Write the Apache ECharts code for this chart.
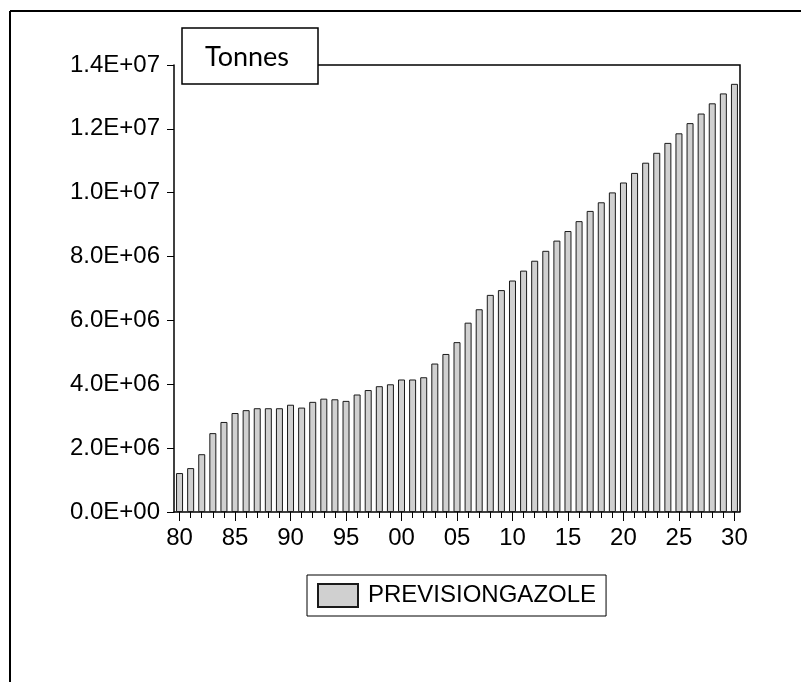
<!DOCTYPE html>
<html>
<head>
<meta charset="utf-8">
<script src="https://cdn.jsdelivr.net/npm/echarts@6/dist/echarts.min.js"></script>
<style>
  html, body { margin: 0; padding: 0; background: #fff; }
  #chart { width: 801px; height: 682px; }
</style>
</head>
<body>
<div id="chart"></div>
<script>
// years shown on the x axis (labels keep the last two digits)
var years = [
  "1980", "1981", "1982", "1983", "1984", "1985", "1986", "1987", "1988", "1989",
  "1990", "1991", "1992", "1993", "1994", "1995", "1996", "1997", "1998", "1999",
  "2000", "2001", "2002", "2003", "2004", "2005", "2006", "2007", "2008", "2009",
  "2010", "2011", "2012", "2013", "2014", "2015", "2016", "2017", "2018", "2019",
  "2020", "2021", "2022", "2023", "2024", "2025", "2026", "2027", "2028", "2029",
  "2030"
];
// PREVISIONGAZOLE, tonnes
var previsionGazole = [
  1220000, 1375000, 1810000, 2470000, 2820000, 3100000, 3190000, 3250000, 3250000, 3250000,
  3360000, 3270000, 3450000, 3550000, 3530000, 3480000, 3680000, 3820000, 3940000, 4000000,
  4150000, 4150000, 4220000, 4650000, 4950000, 5320000, 5930000, 6350000, 6800000, 6950000,
  7250000, 7560000, 7870000, 8180000, 8500000, 8800000, 9110000, 9430000, 9700000, 10010000,
  10320000, 10620000, 10940000, 11250000, 11560000, 11860000, 12180000, 12480000, 12800000, 13110000,
  13410000
];
var seriesName = "PREVISIONGAZOLE";
var unitLabel = "Tonnes";

// 1.4E+07 style labels
function sciLabel(v) {
  if (v === 0) return "0.0E+00";
  var e = Math.floor(Math.log10(v));
  var m = v / Math.pow(10, e);
  var es = (e < 10 ? "0" : "") + e;
  return m.toFixed(1) + "E+" + es;
}

var labelFont = { color: "#000", fontFamily: "Liberation Sans", fontSize: 24 };

var myChart = echarts.init(document.getElementById("chart"));
var option = {
  animation: false,
  backgroundColor: "#fff",
  grid: { left: 174, top: 65, width: 566, height: 447 },
  legend: {
    left: 307,
    top: 575,
    data: [seriesName],
    icon: "rect",
    itemWidth: 40,
    itemHeight: 23,
    borderColor: "#000",
    borderWidth: 1,
    padding: [8, 10, 8, 10],
    textStyle: { color: "#000", fontFamily: "Liberation Sans", fontSize: 24, padding: [0, 0, 0, 5] }
  },
  xAxis: [
    {
      // minor ticks, one per year
      type: "category",
      data: years,
      position: "bottom",
      axisLine: { show: true, lineStyle: { color: "#000", width: 1.5 } },
      axisTick: { show: true, alignWithLabel: true, interval: 0, length: 6, lineStyle: { color: "#000" } },
      axisLabel: { show: false }
    },
    {
      // major ticks and labels every 5 years
      type: "category",
      data: years,
      position: "bottom",
      axisLine: { show: false },
      axisTick: {
        show: true, alignWithLabel: true, length: 9, lineStyle: { color: "#000" },
        interval: function (idx) { return idx % 5 === 0; }
      },
      axisLabel: {
        show: true,
        margin: 14,
        interval: function (idx) { return idx % 5 === 0; },
        formatter: function (v) { return v.slice(2); },
        color: labelFont.color, fontFamily: labelFont.fontFamily, fontSize: labelFont.fontSize
      }
    }
  ],
  yAxis: {
    type: "value",
    min: 0,
    max: 14000000,
    interval: 2000000,
    splitLine: { show: false },
    axisLine: { show: true, lineStyle: { color: "#000", width: 1.5 } },
    axisTick: { show: true, length: 7, lineStyle: { color: "#000" } },
    axisLabel: {
      margin: 14,
      formatter: sciLabel,
      color: labelFont.color, fontFamily: labelFont.fontFamily, fontSize: labelFont.fontSize
    }
  },
  series: [
    {
      name: seriesName,
      type: "bar",
      xAxisIndex: 0,
      data: previsionGazole,
      barWidth: 7,
      itemStyle: { color: "#d0d0d0", borderColor: "#1a1a1a", borderWidth: 1 }
    }
  ],
  graphic: [
    // outer frame (left and top only)
    { type: "line", shape: { x1: 10, y1: 11, x2: 801, y2: 11 }, style: { stroke: "#000", lineWidth: 2 } },
    { type: "line", shape: { x1: 10, y1: 11, x2: 10, y2: 682 }, style: { stroke: "#000", lineWidth: 2 } },
    // plot frame top and right
    { type: "polyline", shape: { points: [[318, 65], [740, 65], [740, 512]] }, style: { stroke: "#000", lineWidth: 1.5, fill: null } },
    // unit box
    { type: "rect", shape: { x: 182, y: 28, width: 136, height: 56 }, style: { fill: "#fff", stroke: "#000", lineWidth: 1.5 }, z: 10 },
    {
      type: "text", x: 247, y: 57, z: 11,
      style: { text: unitLabel, fill: "#000", font: "27px Lato", align: "center", verticalAlign: "middle" }
    }
  ]
};
myChart.setOption(option);
</script>
</body>
</html>
